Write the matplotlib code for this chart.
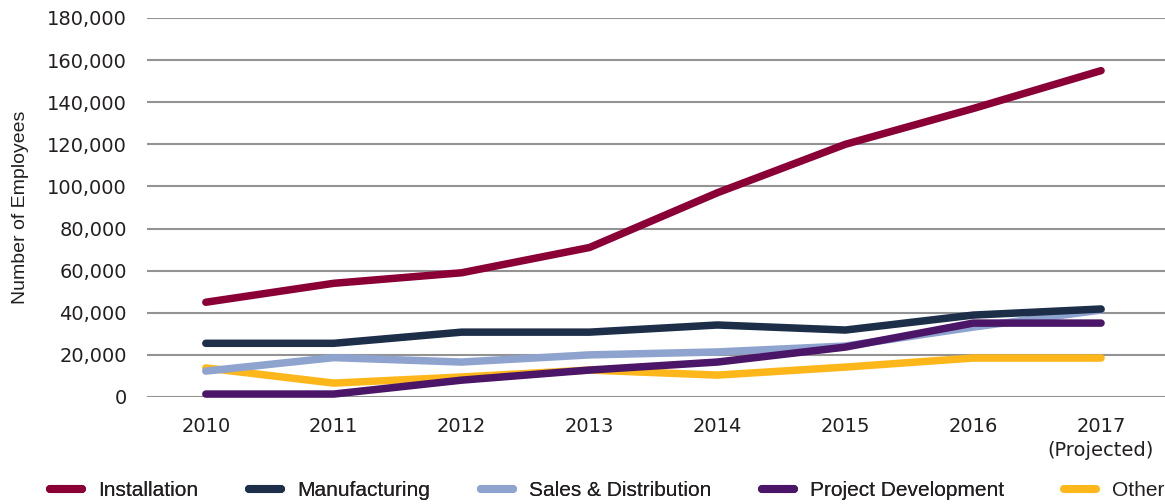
import matplotlib.pyplot as plt
from matplotlib.ticker import FuncFormatter

years = ["2010", "2011", "2012", "2013", "2014", "2015", "2016", "2017\n(Projected)"]

installation = [45000, 54000, 59000, 71000, 97000, 120000, 137000, 155000]
manufacturing = [25500, 25500, 30800, 30800, 34200, 31800, 38900, 41800]
sales_distribution = [12300, 18700, 16600, 20000, 21400, 24200, 33200, 41300]
project_development = [1400, 1400, 8000, 12800, 16600, 23700, 35100, 35100]
other = [13800, 6600, 9500, 12800, 10400, 14200, 18500, 18500]

series = [
    ("Installation", installation, "#8a0036"),
    ("Manufacturing", manufacturing, "#1c2e48"),
    ("Sales & Distribution", sales_distribution, "#8fa3cf"),
    ("Project Development", project_development, "#4b1568"),
    ("Other", other, "#fdb71a"),
]
# drawing order (bottom to top)
zorders = {"Other": 3, "Sales & Distribution": 4, "Project Development": 5,
           "Manufacturing": 6, "Installation": 7}

plt.rcParams['font.family'] = ['Liberation Sans', 'DejaVu Sans']
text_color = '#231f20'

fig = plt.figure(figsize=(11.65, 5.04), dpi=100)
ax = fig.add_axes([147 / 1165, 1 - 397 / 504, 1 - 147 / 1165, (397 - 18) / 504])

x = list(range(len(years)))
handles = []
for name, vals, color in series:
    line, = ax.plot(x, vals, color=color, linewidth=5.4, solid_capstyle='round',
                    solid_joinstyle='round', zorder=zorders[name], clip_on=False, label=name)
    handles.append(line)

ax.set_ylim(0, 180000)
ax.set_yticks(range(0, 180001, 20000))
ax.yaxis.set_major_formatter(FuncFormatter(lambda v, p: f"{int(v):,}"))
ax.set_xlim(-0.46, 7.5)
ax.set_xticks(x)
ax.set_xticklabels(years)
ax.grid(axis='y', color='#939393', linewidth=1.5, zorder=0)
ax.set_axisbelow(True)
for s in ax.spines.values():
    s.set_visible(False)
ax.tick_params(axis='both', length=0, colors=text_color)
ax.tick_params(axis='y', pad=14.4)
ax.tick_params(axis='x', pad=14.5)
for lbl in ax.get_xticklabels() + ax.get_yticklabels():
    lbl.set_family('DejaVu Sans')
    lbl.set_fontsize(14)
for lbl in ax.get_xticklabels():
    lbl.set_linespacing(1.35)
ax.set_ylabel("Number of Employees", fontsize=14, color=text_color)
ax.yaxis.set_label_coords(-0.116, 0.5)

leg_style = dict(loc='center left', frameon=False, handlelength=1.55, handletextpad=0.77,
                 columnspacing=2.42, borderaxespad=0, borderpad=0, prop={'size': 15})
# first four entries in one row, "Other" sits further right on its own
leg = fig.legend(handles=handles[:4], bbox_to_anchor=(50 / 1165, 1 - 491 / 504), ncol=4, **leg_style)
leg2 = fig.legend(handles=handles[4:], bbox_to_anchor=(1064 / 1165, 1 - 491 / 504), ncol=1, **leg_style)
fig.add_artist(leg)
for lg in (leg, leg2):
    for h in lg.get_lines():
        h.set_linewidth(5.8)
        h.set_solid_capstyle('round')
    for t in lg.get_texts():
        t.set_color(text_color)

fig.savefig("out.png", dpi=100)
